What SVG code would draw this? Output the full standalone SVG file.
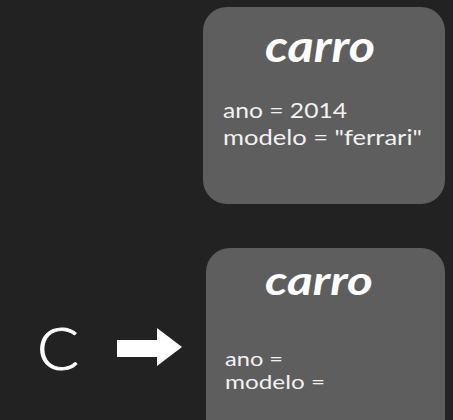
<svg xmlns="http://www.w3.org/2000/svg" width="453" height="420" viewBox="0 0 453 420">
<style>
.box{fill:#5e5e5e}
.title{font-family:Lato,"Open Sans",sans-serif;font-weight:700;font-style:italic;fill:#ffffff}
.attr{font-family:Lato,"Open Sans",sans-serif;fill:#f2f2f2}
</style>
<rect width="453" height="420" fill="#222222"/>
<g id="carro1">
<rect class="box" x="203" y="7" width="242" height="197" rx="24"/>
<text class="title" x="265" y="62" font-size="43" textLength="110" lengthAdjust="spacingAndGlyphs">carro</text>
<text class="attr" x="223" y="118" font-size="21" textLength="124" lengthAdjust="spacingAndGlyphs">ano = 2014</text>
<text class="attr" x="223" y="145" font-size="21" textLength="199" lengthAdjust="spacingAndGlyphs">modelo = "ferrari"</text>
</g>
<g id="carro2">
<rect class="box" x="206" y="248" width="239" height="200" rx="24"/>
<text class="title" x="265" y="295" font-size="41" textLength="108" lengthAdjust="spacingAndGlyphs">carro</text>
<text class="attr" x="225" y="366" font-size="20" textLength="58" lengthAdjust="spacingAndGlyphs">ano =</text>
<text class="attr" x="225" y="389" font-size="20" textLength="100" lengthAdjust="spacingAndGlyphs">modelo =</text>
</g>
<g id="c">
<text x="37" y="370" font-family="Lato,'Open Sans',sans-serif" font-weight="300" font-size="60" fill="#ffffff" stroke="#ffffff" stroke-width="0.9" textLength="42" lengthAdjust="spacingAndGlyphs">C</text>
</g>
<g id="connectors">
<polygon points="117,340 157,340 157,328 182,347 157,366 157,357 117,357" fill="#ffffff"/>
</g>
</svg>
